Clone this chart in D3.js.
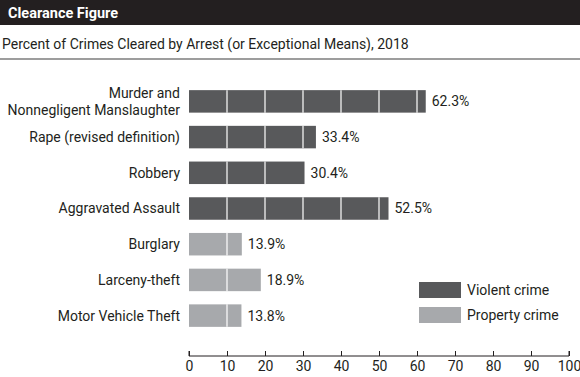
<!DOCTYPE html>
<html>
<head>
<meta charset="utf-8">
<script src="https://cdn.jsdelivr.net/npm/d3@7"></script>
<style>
  body { margin: 0; background: #fff; }
  svg { display: block; font-family: "Roboto", sans-serif; }
</style>
</head>
<body>
<svg width="580" height="377"></svg>
<script>
const categories = ["Murder and\nNonnegligent Manslaughter", "Rape (revised definition)", "Robbery",
  "Aggravated Assault", "Burglary", "Larceny-theft", "Motor Vehicle Theft"];
const values = [62.3, 33.4, 30.4, 52.5, 13.9, 18.9, 13.8];
const groups = ["Violent crime", "Violent crime", "Violent crime", "Violent crime",
  "Property crime", "Property crime", "Property crime"];
const ticks = [0, 10, 20, 30, 40, 50, 60, 70, 80, 90, 100];

const width = 580, height = 377;
const svg = d3.select("svg");

const color = d3.scaleOrdinal()
    .domain(["Violent crime", "Property crime"])
    .range(["#58595b", "#a7a9ac"]);

// header
svg.append("rect").attr("x", 0).attr("y", 0).attr("width", width).attr("height", 25).attr("fill", "#231f20");
svg.append("text").attr("x", 8).attr("y", 18)
    .attr("fill", "#fff").style("font-size", "14.5px").style("font-weight", "bold")
    .text("Clearance Figure");
svg.append("text").attr("x", 2).attr("y", 49)
    .attr("fill", "#231f20").style("font-size", "14px")
    .text("Percent of Crimes Cleared by Arrest (or Exceptional Means), 2018");
svg.append("line").attr("x1", 0).attr("x2", width).attr("y1", 59).attr("y2", 59)
    .attr("stroke", "#9d9d9d").attr("stroke-width", 2);

const x = d3.scaleLinear().domain([0, 100]).range([189, 569]);
const y = d3.scaleBand().domain(categories).range([83, 334]).paddingInner(0.37).paddingOuter(0.2);

const bars = svg.selectAll(".bar")
    .data(categories)
    .enter().append("g")
    .attr("class", "bar");

bars.append("rect")
    .attr("x", x(0))
    .attr("y", d => y(d))
    .attr("width", (d, i) => x(values[i]) - x(0))
    .attr("height", y.bandwidth())
    .attr("fill", (d, i) => color(groups[i]));

// white dividers every 10 units (skip one sitting right at the bar end)
bars.each(function(d, i) {
    const g = d3.select(this);
    ticks.filter(t => t > 0 && t < values[i] - 1).forEach(t => {
        g.append("line")
            .attr("x1", x(t)).attr("x2", x(t))
            .attr("y1", y(d)).attr("y2", y(d) + y.bandwidth())
            .attr("stroke", "#fff").attr("stroke-width", 1.2);
    });
});

bars.append("text")
    .attr("x", (d, i) => x(values[i]) + 6)
    .attr("y", d => y(d) + y.bandwidth() / 2)
    .attr("dy", "0.35em")
    .style("font-size", "14px")
    .attr("fill", "#231f20")
    .text((d, i) => values[i].toFixed(1) + "%");

// category labels
bars.each(function(d) {
    const lines = d.split("\n");
    const t = d3.select(this).append("text")
        .attr("text-anchor", "end")
        .style("font-size", "14px")
        .attr("fill", "#231f20");
    const cy = y(d) + y.bandwidth() / 2;
    lines.forEach((ln, k) => {
        t.append("tspan")
            .attr("x", 180)
            .attr("y", cy + (k - (lines.length - 1) / 2) * 17)
            .attr("dy", "0.35em")
            .text(ln);
    });
});

// axis
const axis = svg.append("g").attr("transform", "translate(0,356)")
    .call(d3.axisBottom(x).tickValues(ticks).tickSize(-5).tickPadding(5));
axis.select(".domain").attr("stroke", "#231f20").attr("d", `M${x(0)},-5V0H${x(100)}V-5`);
axis.selectAll(".tick line").attr("stroke", "#231f20");
axis.selectAll(".tick text")
    .attr("fill", "#231f20")
    .style("font-size", "14px")
    .style("font-family", "Roboto, sans-serif");

// legend
const legend = svg.selectAll(".legend")
    .data(color.domain())
    .enter().append("g")
    .attr("class", "legend")
    .attr("transform", (d, i) => `translate(419, ${282 + i * 25})`);
legend.append("rect").attr("width", 42).attr("height", 16).attr("fill", d => color(d));
legend.append("text").attr("x", 48).attr("y", 8).attr("dy", "0.35em")
    .style("font-size", "14px").attr("fill", "#231f20").text(d => d);
</script>
</body>
</html>
